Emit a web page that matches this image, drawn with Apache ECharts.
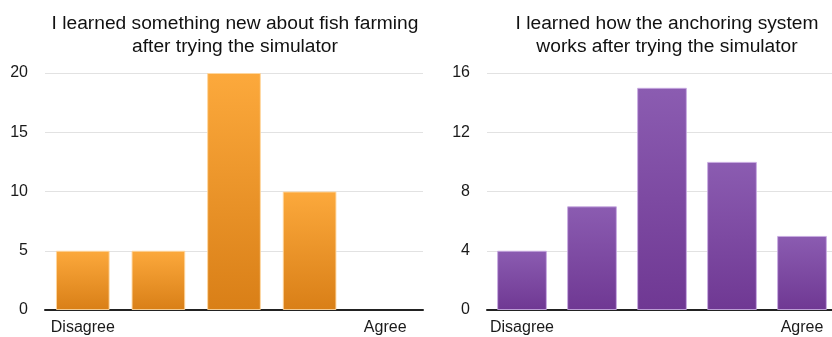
<!DOCTYPE html>
<html>
<head>
<meta charset="utf-8">
<script src="https://cdn.jsdelivr.net/npm/echarts@6/dist/echarts.min.js"></script>
<style>
  html, body { margin: 0; padding: 0; background: #fff; overflow: hidden; }
  #chart { width: 832px; height: 337px; }
</style>
</head>
<body>
<div id="chart"></div>
<script>
// Likert scale categories (only the ends are labelled)
const categories = ["Disagree", "", "", "", "Agree"];

// Responses: fish farming knowledge
const fishFarmingTitle = "I learned something new about fish farming\nafter trying the simulator";
const fishFarmingCounts = [5, 5, 20, 10, 0];
const fishFarmingTicks = { min: 0, max: 20, interval: 5 };

// Responses: anchoring system understanding
const anchoringTitle = "I learned how the anchoring system\nworks after trying the simulator";
const anchoringCounts = [4, 7, 15, 10, 5];
const anchoringTicks = { min: 0, max: 16, interval: 4 };

const chart = echarts.init(document.getElementById('chart'), null, { renderer: 'canvas' });

const fontFamily = 'Liberation Sans, Helvetica, Arial, sans-serif';

function grad(top, bottom) {
  return {
    type: 'linear', x: 0, y: 0, x2: 0, y2: 1,
    colorStops: [{ offset: 0, color: top }, { offset: 1, color: bottom }]
  };
}

// Empty bars get no outline so nothing is drawn for them
function barData(values) {
  return values.map(v => (v === 0 ? { value: v, itemStyle: { borderWidth: 0 } } : v));
}

function xAxisFor(gridIndex) {
  return {
    type: 'category',
    gridIndex,
    data: categories,
    axisTick: { show: false },
    axisLine: { show: true, lineStyle: { color: '#222', width: 2 } },
    axisLabel: { color: '#1a1a1a', fontSize: 16, fontFamily, margin: 10, interval: 0 }
  };
}

function yAxisFor(gridIndex, ticks) {
  return {
    type: 'value',
    gridIndex,
    min: ticks.min,
    max: ticks.max,
    interval: ticks.interval,
    axisLine: { show: false },
    axisTick: { show: false },
    axisLabel: { color: '#1a1a1a', fontSize: 16, fontFamily, margin: 17 },
    splitLine: { lineStyle: { color: '#e2e2e2', width: 1 } }
  };
}

const titleStyle = { fontSize: 19.2, fontWeight: 'normal', color: '#111', fontFamily, lineHeight: 23 };

chart.setOption({
  animation: false,
  backgroundColor: '#ffffff',
  title: [
    { text: fishFarmingTitle, left: 230, top: 7, textAlign: 'center', textStyle: titleStyle },
    { text: anchoringTitle, left: 662, top: 7, textAlign: 'center', textStyle: titleStyle }
  ],
  grid: [
    { left: 45, width: 378, top: 73, bottom: 27, containLabel: false, outerBoundsMode: 'none' },
    { left: 487, width: 350, top: 73, bottom: 27, containLabel: false, outerBoundsMode: 'none' }
  ],
  xAxis: [xAxisFor(0), xAxisFor(1)],
  yAxis: [yAxisFor(0, fishFarmingTicks), yAxisFor(1, anchoringTicks)],
  series: [
    {
      type: 'bar',
      xAxisIndex: 0, yAxisIndex: 0,
      data: barData(fishFarmingCounts),
      barWidth: '71%',
      itemStyle: {
        color: grad('#fca93c', '#d97f17'),
        borderColor: 'rgba(255,215,160,0.9)',
        borderWidth: 1
      }
    },
    {
      type: 'bar',
      xAxisIndex: 1, yAxisIndex: 1,
      data: barData(anchoringCounts),
      barWidth: '71%',
      itemStyle: {
        color: grad('#8b5cb1', '#6f3893'),
        borderColor: 'rgba(200,170,225,0.9)',
        borderWidth: 1
      }
    }
  ]
});
</script>
</body>
</html>
